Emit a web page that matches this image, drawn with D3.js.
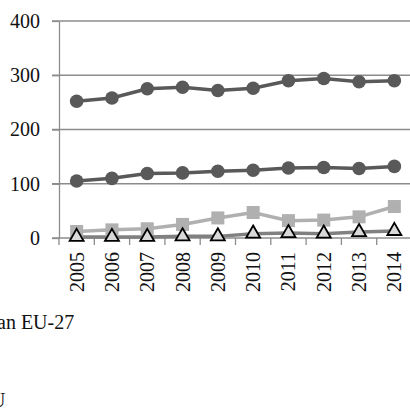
<!DOCTYPE html>
<html><head><meta charset="utf-8">
<script src="https://cdn.jsdelivr.net/npm/d3@7"></script>
<style>body{margin:0;background:#fff}svg{display:block}</style>
</head><body>
<svg id="c" width="410" height="409"></svg>
<script>
const years = ["2005","2006","2007","2008","2009","2010","2011","2012","2013","2014"];
const seriesA = [252,258,275,278,272,276,290,294,288,290];
const seriesB = [105,110,119,120,123,125,129,130,128,132];
const seriesC = [12,15,17,25,37,47,32,33,39,58];
const seriesD = [2,2,2,3,3,8,9,8,11,13];
const yTicks = [0,100,200,300,400];

const svg = d3.select("#c");
const x = d3.scaleBand().domain(years).range([59, 412]);
const y = d3.scaleLinear().domain([0,400]).range([238, 21]);
const grid = "#8c8c8c";
function txt(sel){
  sel.style("font-family",'"Liberation Serif"').style("font-size","20px").style("fill","#111");
}

// gridlines
svg.append("g").selectAll("line").data(yTicks.filter(d=>d>0)).join("line")
  .attr("x1",52).attr("x2",410).attr("y1",d=>y(d)).attr("y2",d=>y(d))
  .attr("stroke",grid).attr("stroke-width",1.3);

// y axis
const ya = svg.append("g").attr("transform","translate(59,0)")
  .call(d3.axisLeft(y).tickValues(yTicks).tickSize(7).tickPadding(12).tickSizeOuter(0));
ya.select(".domain").attr("stroke",grid).attr("stroke-width",1.3);
ya.selectAll(".tick line").attr("stroke",grid).attr("stroke-width",1.3);
ya.selectAll("text").call(txt);

// x axis
const xa = svg.append("g").attr("transform","translate(0,238)")
  .call(d3.axisBottom(x).tickSize(0).tickSizeOuter(0));
xa.select(".domain").attr("stroke",grid).attr("stroke-width",1.3).attr("d","M52,0H410");
xa.selectAll(".tick text").call(txt)
  .attr("transform","rotate(-90)").attr("text-anchor","end")
  .attr("x",-14).attr("y",0).attr("dy","0.35em");
// boundary ticks
svg.append("g").selectAll("line").data(d3.range(years.length+1)).join("line")
  .attr("x1",i=>x.range()[0]+i*x.step()).attr("x2",i=>x.range()[0]+i*x.step())
  .attr("y1",238).attr("y2",245).attr("stroke",grid).attr("stroke-width",1.3);

const cx = d=>x(d)+x.bandwidth()/2;
function drawLine(vals,color){
  svg.append("path").datum(vals)
    .attr("d",d3.line().x((v,i)=>cx(years[i])).y(v=>y(v)))
    .attr("fill","none").attr("stroke",color).attr("stroke-width",3.5);
}
drawLine(seriesD,"#808080");
drawLine(seriesC,"#b0b0b0");
drawLine(seriesB,"#595959");
drawLine(seriesA,"#595959");

svg.append("g").selectAll("circle").data(seriesA).join("circle")
  .attr("cx",(v,i)=>cx(years[i])).attr("cy",v=>y(v)).attr("r",6.8).attr("fill","#595959");
svg.append("g").selectAll("circle").data(seriesB).join("circle")
  .attr("cx",(v,i)=>cx(years[i])).attr("cy",v=>y(v)).attr("r",6.8).attr("fill","#595959");
svg.append("g").selectAll("rect").data(seriesC).join("rect")
  .attr("x",(v,i)=>cx(years[i])-6.5).attr("y",v=>y(v)-6.5).attr("width",13).attr("height",13).attr("fill","#b0b0b0");
const tri = d3.symbol().type(d3.symbolTriangle).size(85);
svg.append("g").selectAll("path").data(seriesD).join("path")
  .attr("d",tri).attr("transform",(v,i)=>`translate(${cx(years[i])},${y(v)})`)
  .attr("fill","#d9d9d9").attr("stroke","#000").attr("stroke-width",1.8);

// legend (mostly cropped, as in reference)
svg.append("text").attr("x",-3).attr("y",329).call(txt).text("an EU-27");
svg.append("text").attr("x",-9).attr("y",407).call(txt).text("U");
</script>
</body></html>
